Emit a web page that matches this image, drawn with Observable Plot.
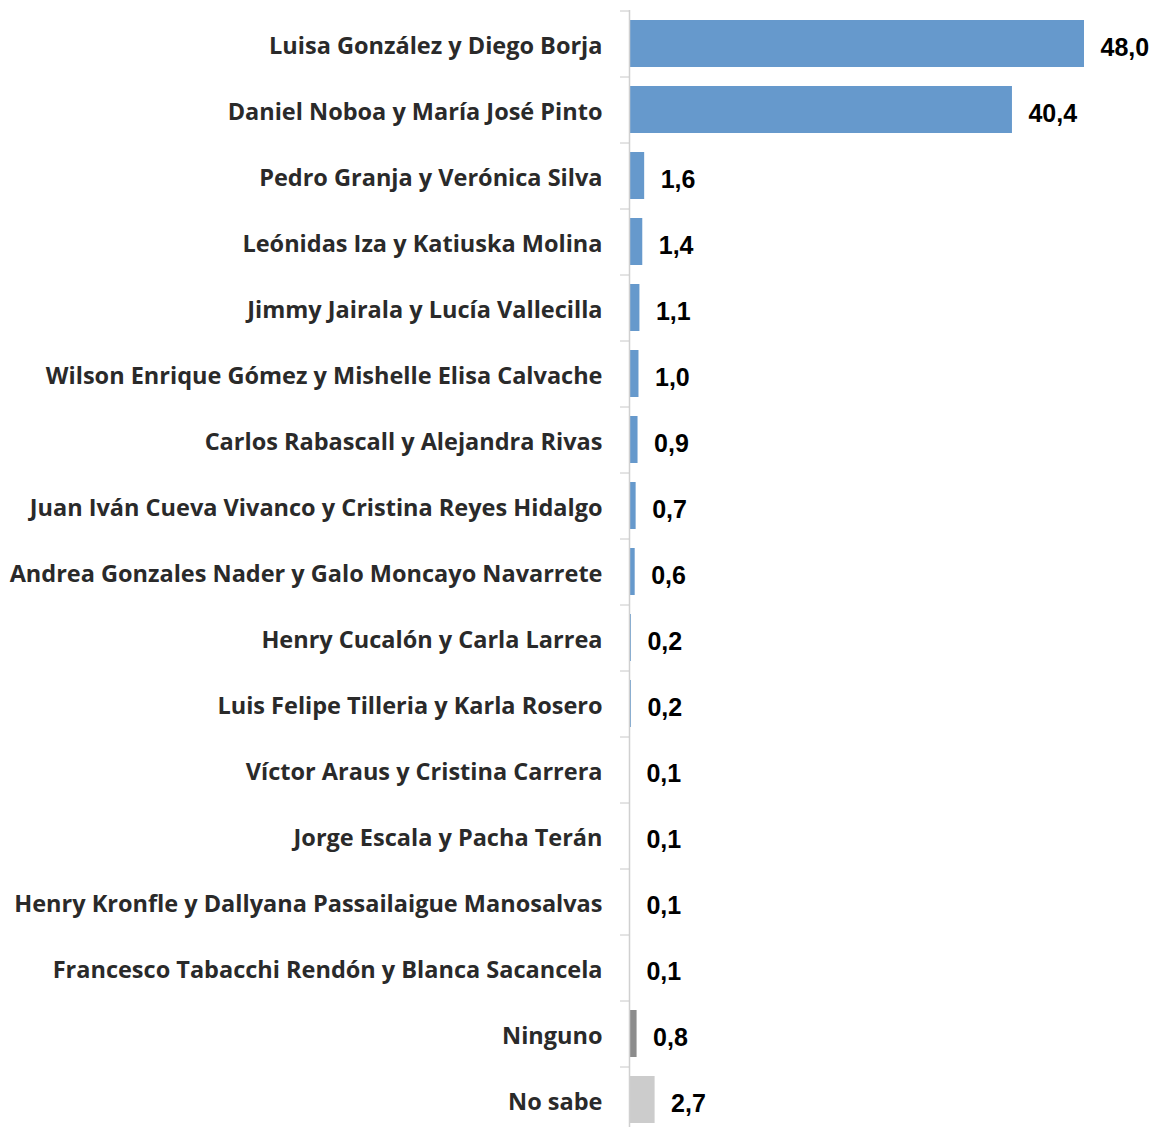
<!DOCTYPE html>
<html>
<head>
<meta charset="utf-8">
<script src="https://cdn.jsdelivr.net/npm/d3@7"></script>
<script src="https://cdn.jsdelivr.net/npm/@observablehq/plot@0.6"></script>
<style>
  html, body { margin: 0; padding: 0; background: #fff; }
  #chart svg { display: block; }
</style>
</head>
<body>
<div id="chart"></div>
<script>
const categories = [
  "Luisa González y Diego Borja",
  "Daniel Noboa y María José Pinto",
  "Pedro Granja y Verónica Silva",
  "Leónidas Iza y Katiuska Molina",
  "Jimmy Jairala y Lucía Vallecilla",
  "Wilson Enrique Gómez y Mishelle Elisa Calvache",
  "Carlos Rabascall y Alejandra Rivas",
  "Juan Iván Cueva Vivanco y Cristina Reyes Hidalgo",
  "Andrea Gonzales Nader y Galo Moncayo Navarrete",
  "Henry Cucalón y Carla Larrea",
  "Luis Felipe Tilleria y Karla Rosero",
  "Víctor Araus y Cristina Carrera",
  "Jorge Escala y Pacha Terán",
  "Henry Kronfle y Dallyana Passailaigue Manosalvas",
  "Francesco Tabacchi Rendón y Blanca Sacancela",
  "Ninguno",
  "No sabe"
];
const values = [48.0, 40.4, 1.6, 1.4, 1.1, 1.0, 0.9, 0.7, 0.6, 0.2, 0.2, 0.1, 0.1, 0.1, 0.1, 0.8, 2.7];
const groups = ["cand","cand","cand","cand","cand","cand","cand","cand","cand","cand","cand","cand","cand","cand","cand","ninguno","nosabe"];

const data = categories.map((c, i) => ({category: c, value: values[i], group: groups[i]}));
const fmt = v => v.toFixed(1).replace(".", ",");

const chart = Plot.plot({
  width: 1153,
  height: 1127,
  marginLeft: 629,
  marginRight: 0,
  marginTop: 10,
  marginBottom: 0,
  x: {domain: [0, 55], range: [629, 629 + 55 * 9.479], axis: null},
  y: {domain: categories, range: [10, 1132], paddingInner: 0.295, paddingOuter: 0.1475, axis: null},
  color: {domain: ["cand", "ninguno", "nosabe"], range: ["#6699cc", "#8c8c8c", "#cccccc"]},
  marks: [
    Plot.barX(data, {x: "value", y: "category", fill: "group"}),
    Plot.ruleX([0], {stroke: "#d0d0d0", strokeWidth: 1.5}),
    Plot.axisY({tickFormat: () => "", tickSize: 9, dy: -33, stroke: "#c8c8c8", label: null}),
    Plot.text(data, {
      x: 0, y: "category", text: "category", textAnchor: "end", dx: -27, dy: 2,
      fontFamily: "Open Sans", fontWeight: "bold", fontSize: 23.5, fill: "#2a2a2a"
    }),
    Plot.text(data, {
      x: "value", y: "category", text: d => fmt(d.value), textAnchor: "start", dx: 16, dy: 4,
      fontFamily: "Liberation Sans", fontWeight: "bold", fontSize: 25, fill: "#000"
    })
  ]
});
document.getElementById("chart").appendChild(chart);
</script>
</body>
</html>
